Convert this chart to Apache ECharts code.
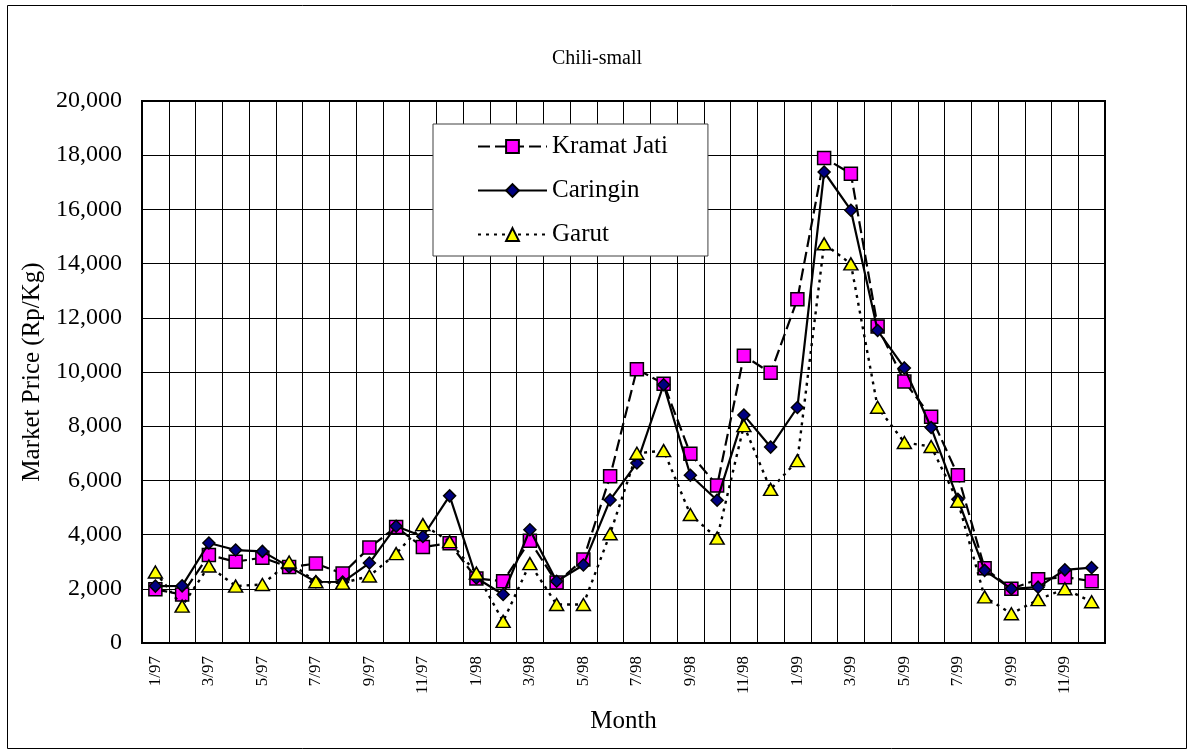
<!DOCTYPE html>
<html>
<head>
<meta charset="utf-8">
<script src="https://cdn.jsdelivr.net/npm/echarts@6/dist/echarts.min.js"></script>
<style>
  html, body { margin: 0; padding: 0; background: #fff; }
  #chart { width: 1194px; height: 756px; }
</style>
</head>
<body>
<div id="chart"></div>
<script>
// Monthly wholesale prices of small chili, Jan 1997 – Dec 1999 (Rp/Kg)
const months = [
  '1/97','2/97','3/97','4/97','5/97','6/97','7/97','8/97','9/97','10/97','11/97','12/97',
  '1/98','2/98','3/98','4/98','5/98','6/98','7/98','8/98','9/98','10/98','11/98','12/98',
  '1/99','2/99','3/99','4/99','5/99','6/99','7/99','8/99','9/99','10/99','11/99','12/99'
];

const kramatJati = [
  1980, 1790, 3250, 3000, 3150, 2800, 2930, 2560, 3520, 4280, 3540, 3680,
  2380, 2280, 3770, 2230, 3080, 6150, 10100, 9570, 6980, 5810, 10600, 9970,
  12680, 17900, 17320, 11680, 9650, 8350, 6190, 2760, 2000, 2350, 2430, 2280
];

const caringin = [
  2100, 2110, 3690, 3430, 3380, 2810, 2260, 2250, 2950, 4310, 3930, 5430,
  2400, 1790, 4180, 2280, 2880, 5280, 6640, 9530, 6190, 5270, 8410, 7230,
  8690, 17380, 15970, 11530, 10150, 7950, 5300, 2680, 2000, 2060, 2700, 2780
];

const garut = [
  2620, 1360, 2840, 2100, 2160, 2990, 2260, 2210, 2470, 3300, 4370, 3740,
  2580, 800, 2930, 1420, 1420, 4030, 7000, 7100, 4740, 3870, 8020, 5670,
  6730, 14730, 13990, 8700, 7400, 7250, 5230, 1700, 1080, 1600, 2000, 1520
];

const yMin = 0, yMax = 20000, yStep = 2000;

const serif = '"Liberation Serif", "DejaVu Serif", serif';

const chart = echarts.init(document.getElementById('chart'), null, { renderer: 'canvas' });

const markerBorder = { borderColor: '#000', borderWidth: 1.5 };

chart.setOption({
  animation: false,
  backgroundColor: '#fff',
  textStyle: { fontFamily: serif, color: '#000' },
  title: {
    text: 'Chili-small',
    left: 'center',
    top: 44,
    textStyle: { fontFamily: serif, fontWeight: 'normal', fontSize: 20, color: '#000' }
  },
  graphic: [{
    type: 'rect',
    shape: { x: 7.5, y: 5.5, width: 1179, height: 743 },
    style: { fill: 'none', stroke: '#000', lineWidth: 1 },
    silent: true,
    z: -1
  }],
  legend: {
    orient: 'vertical',
    left: 433,
    top: 124,
    backgroundColor: '#fff',
    borderColor: '#404040',
    borderWidth: 1,
    padding: [10, 40, 9, 44],
    itemGap: 19,
    itemWidth: 69,
    itemHeight: 16,
    textStyle: { fontFamily: serif, fontSize: 25, lineHeight: 24, color: '#000' },
    data: ['Kramat Jati', 'Caringin', 'Garut']
  },
  grid: {
    left: 142, right: 89, top: 101, bottom: 113,
    show: true, borderColor: '#000', borderWidth: 2, backgroundColor: 'transparent'
  },
  xAxis: {
    type: 'category',
    data: months,
    boundaryGap: true,
    name: 'Month',
    nameLocation: 'middle',
    nameGap: 66,
    nameTextStyle: { fontFamily: serif, fontSize: 25, color: '#000' },
    axisLine: { lineStyle: { color: '#000', width: 2 } },
    axisTick: { show: true, interval: 0, length: 4, inside: true, lineStyle: { color: '#000' } },
    axisLabel: {
      interval: 1,
      rotate: 90,
      margin: 13,
      fontFamily: serif,
      fontSize: 17,
      color: '#000'
    },
    splitLine: { show: true, interval: 0, lineStyle: { color: '#000', width: 1 } }
  },
  yAxis: {
    type: 'value',
    min: yMin,
    max: yMax,
    interval: yStep,
    name: 'Market Price (Rp/Kg)',
    nameLocation: 'middle',
    nameGap: 90,
    nameTextStyle: { fontFamily: serif, fontSize: 25, color: '#000' },
    axisLine: { show: true, lineStyle: { color: '#000', width: 2 } },
    axisTick: { show: true, inside: true, length: 7, lineStyle: { color: '#000' } },
    axisLabel: {
      margin: 20,
      fontFamily: serif,
      fontSize: 24,
      color: '#000',
      formatter: v => v.toLocaleString('en-US')
    },
    splitLine: { show: true, lineStyle: { color: '#000', width: 1 } }
  },
  series: [
    {
      name: 'Kramat Jati',
      type: 'line',
      data: kramatJati,
      symbol: 'rect',
      symbolSize: 13,
      showAllSymbol: true,
      lineStyle: { color: '#000', width: 2.2, type: [12, 5] },
      itemStyle: Object.assign({ color: '#FF00FF' }, markerBorder),
      z: 2
    },
    {
      name: 'Caringin',
      type: 'line',
      data: caringin,
      symbol: 'diamond',
      symbolSize: 12,
      showAllSymbol: true,
      lineStyle: { color: '#000', width: 2.2, type: 'solid' },
      itemStyle: Object.assign({ color: '#000080' }, markerBorder),
      z: 3
    },
    {
      name: 'Garut',
      type: 'line',
      data: garut,
      symbol: 'triangle',
      symbolSize: [14, 12],
      showAllSymbol: true,
      lineStyle: { color: '#000', width: 2.4, type: [3, 5] },
      itemStyle: Object.assign({ color: '#FFFF00' }, markerBorder),
      z: 4
    }
  ]
});
</script>
</body>
</html>
